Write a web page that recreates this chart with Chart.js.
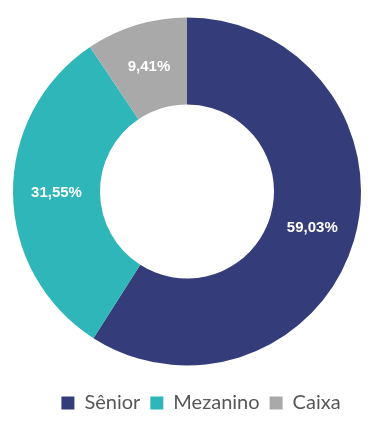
<!DOCTYPE html>
<html lang="pt-BR">
<head>
    <meta charset="UTF-8">
    <title>Distribuição</title>
    <script src="https://cdn.jsdelivr.net/npm/chart.js"></script>
    <style>
        html, body { margin: 0; padding: 0; background: #fff; }
        #wrap { width: 376px; height: 425px; }
    </style>
</head>
<body>
    <div id="wrap"><canvas id="donutChart"></canvas></div>

    <script>
        // Dados
        const categories = ['Sênior', 'Mezanino', 'Caixa'];
        const shares = [59.03, 31.55, 9.41];
        const sliceColors = ['#343d79', '#2fb6b8', '#a9a9a9'];

        // Rótulos percentuais no centro de cada fatia
        const sliceLabels = {
            id: 'sliceLabels',
            afterDatasetsDraw(chart) {
                const ctx = chart.ctx;
                const meta = chart.getDatasetMeta(0);
                ctx.save();
                ctx.fillStyle = '#ffffff';
                ctx.font = 'bold 15px "Liberation Sans", Arial, sans-serif';
                ctx.textAlign = 'center';
                ctx.textBaseline = 'middle';
                meta.data.forEach((arc, i) => {
                    const p = arc.tooltipPosition();
                    ctx.fillText(shares[i].toFixed(2).replace('.', ',') + '%', p.x, p.y);
                });
                ctx.restore();
            }
        };

        // a legenda do original fica um pouco à direita do centro
        const legendShift = {
            id: 'legendShift',
            afterLayout(chart) {
                chart.legend.left += 14;
                chart.legend.right += 14;
            }
        };

        new Chart(document.getElementById('donutChart'), {
            type: 'doughnut',
            data: {
                labels: categories,
                datasets: [{
                    data: shares,
                    backgroundColor: sliceColors,
                    borderWidth: 0
                }]
            },
            options: {
                responsive: true,
                maintainAspectRatio: false,
                animation: false,
                cutout: '50%',
                layout: { padding: { top: 0, left: 13, right: 15, bottom: 2 } },
                plugins: {
                    tooltip: { enabled: false },
                    legend: {
                        position: 'bottom',
                        labels: {
                            boxWidth: 13,
                            boxHeight: 13,
                            padding: 10,
                            color: '#575757',
                            font: { family: 'Lato, "Open Sans", sans-serif', size: 20 }
                        }
                    }
                }
            },
            plugins: [sliceLabels, legendShift]
        });
    </script>
</body>
</html>
